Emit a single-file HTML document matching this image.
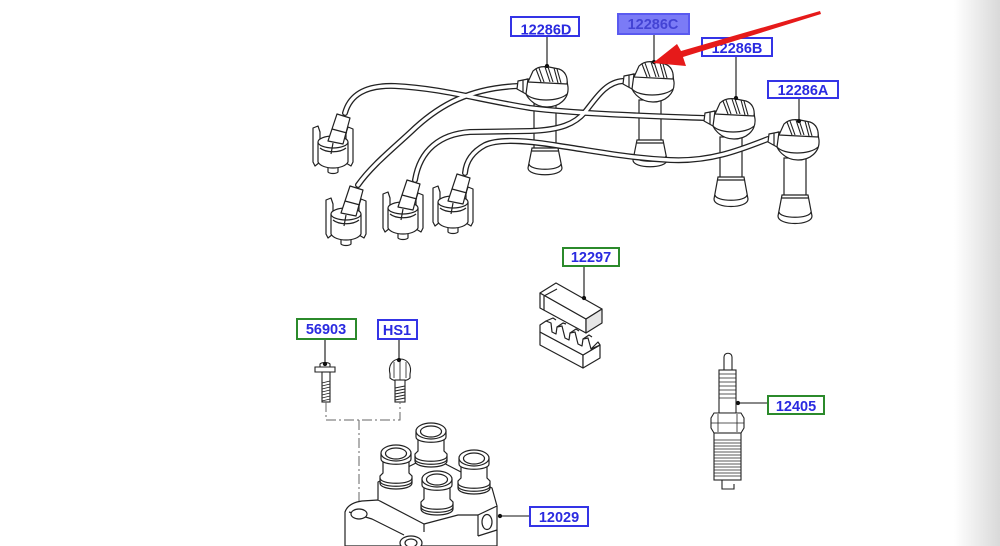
<!DOCTYPE html>
<html><head><meta charset="utf-8"><style>
html,body{margin:0;padding:0;background:#fff;}
#wrap{position:relative;width:1000px;height:546px;overflow:hidden;background:#fff;}
#edge{position:absolute;right:0;top:0;width:46px;height:546px;background:linear-gradient(to right,rgba(220,220,220,0),#d9d9d9);}
svg{position:absolute;left:0;top:0;}
text{font-family:"Liberation Sans",Arial,sans-serif;font-weight:bold;font-size:14.5px;text-anchor:middle;}
</style></head><body><div id="wrap"><div id="edge"></div>
<svg width="1000" height="546" viewBox="0 0 1000 546" xmlns="http://www.w3.org/2000/svg">
<defs>
<g id="hd" stroke="#222" stroke-width="1.2" fill="#fff" stroke-linejoin="round">
 <path d="M-20,18 C-22,30 -10,40 2,40 C14,40 24,32 23,20 L22,14 L-18,12 Z"/>
 <path d="M-19,27 C-12,35 14,35 22,27" fill="none"/>
 <path d="M-17,15 L-12,4 C-8,0 -2,-1 4,0 L14,2 C20,4 23,10 22,17 Z"/>
 <path d="M-9,2 L-4,15 M-6,1 L-1,15 M0,0 L5,15 M3,0 L8,15 M9,1 L13,16 M12,2 L16,16" fill="none" stroke-width="1.1"/>
 <path d="M-17,12 L-27,14 L-28,22 L-19,27 Z"/>
 <path d="M-22,13 L-22,25" fill="none"/>
</g>
<g id="cn" fill="#fff" stroke="#222" stroke-width="1.2" stroke-linejoin="round">
 <path d="M1,16 L6,14 L8,20 L8,50 L3,54 L1,50 Z"/>
 <path d="M41,17 L36,15 L34,21 L34,51 L39,54 L41,50 Z"/>
 <path d="M16,55 L16,60 C18,62 24,62 26,60 L26,55"/>
 <path d="M6,30 L6,50 C10,58 32,58 36,50 L36,30 Z"/>
 <ellipse cx="21" cy="30" rx="15" ry="6"/>
 <path d="M8,36 C14,41 28,41 34,36" fill="none"/>
 <path d="M16,29 L25,2 L38,6 L31,32 Z"/>
 <path d="M20,17 L35,21" fill="none"/>
 <path d="M21,31 L19,42" fill="none"/>
</g>
<g id="tw" stroke="#222" stroke-width="1.2" fill="#fff">
 <path d="M-16,30 C-16,38 16,38 16,30 L16,23 L13,20 L13,3 L-13,3 L-13,20 L-16,23 Z"/>
 <path d="M-16,25 C-16,32 16,32 16,25" fill="none"/>
 <path d="M-16,28 C-16,35 16,35 16,28" fill="none"/>
 <path d="M-15,0 L-15,6 C-15,13 15,13 15,6 L15,0" />
 <ellipse cx="0" cy="0" rx="15" ry="8"/>
 <ellipse cx="0" cy="0.5" rx="10.5" ry="5.5"/>
</g>
</defs>

<!-- boot tubes and caps -->
<g stroke="#222" stroke-width="1.2" fill="#fff">
 <rect x="534" y="104" width="22" height="46"/>
 <path d="M532,148 L528,168 C528,177 562,177 562,168 L558,148 Z"/>
 <path d="M529,164 C530,171 560,171 561,164 M532,151 L558,151" fill="none"/>
 <rect x="639" y="100" width="22" height="42"/>
 <path d="M637,140 L633,160 C633,169 667,169 667,160 L663,140 Z"/>
 <path d="M634,156 C635,163 665,163 666,156 M637,143 L663,143" fill="none"/>
 <rect x="720" y="137" width="22" height="42"/>
 <path d="M718,177 L714,199 C714,209 748,209 748,199 L744,177 Z"/>
 <path d="M715,195 C716,202 746,202 747,195 M718,180 L744,180" fill="none"/>
 <rect x="784" y="158" width="22" height="39"/>
 <path d="M782,195 L778,216 C778,226 812,226 812,216 L808,195 Z"/>
 <path d="M779,212 C780,219 810,219 811,212 M782,198 L808,198" fill="none"/>
</g>

<!-- wires -->
<g fill="none" stroke-linecap="round">
 <g stroke="#222" stroke-width="6">
  <path d="M345,113 C350,95 365,85 395,86 C440,88 480,100 530,108 C580,114 650,116 704,118"/>
  <path d="M518,86 C470,88 440,105 415,128 C395,147 372,165 358,185"/>
  <path d="M623,81 C605,82 595,100 585,112 C575,124 560,130 530,131 L470,132 C440,134 420,150 415,180"/>
  <path d="M768,139 C740,150 710,162 670,160 C630,158 600,152 560,146 C530,141 500,138 485,145 C472,152 466,162 465,173"/>
 </g>
 <g stroke="#fff" stroke-width="3.4">
  <path d="M345,113 C350,95 365,85 395,86 C440,88 480,100 530,108 C580,114 650,116 704,118"/>
  <path d="M518,86 C470,88 440,105 415,128 C395,147 372,165 358,185"/>
  <path d="M623,81 C605,82 595,100 585,112 C575,124 560,130 530,131 L470,132 C440,134 420,150 415,180"/>
  <path d="M768,139 C740,150 710,162 670,160 C630,158 600,152 560,146 C530,141 500,138 485,145 C472,152 466,162 465,173"/>
 </g>
</g>

<!-- boot heads -->
<use href="#hd" x="545" y="67"/>
<use href="#hd" x="651" y="62"/>
<use href="#hd" x="732" y="99"/>
<use href="#hd" x="796" y="120"/>

<!-- connectors -->
<use href="#cn" x="312" y="112"/>
<use href="#cn" x="325" y="184"/>
<use href="#cn" x="382" y="178"/>
<use href="#cn" x="432" y="172"/>

<!-- clip 12297 -->
<g stroke="#222" stroke-width="1.2" fill="#fff" stroke-linejoin="round">
 <path d="M540,293 L586,319 L586,333 L540,308 Z"/>
 <path d="M540,293 L556,283 L602,309 L586,319 Z"/>
 <path d="M586,319 L602,309 L602,323 L586,333 Z" fill="#e6e6e6"/>
 <path d="M544,296 L544,310 M544,296 L557,289" fill="none"/>
 <path d="M540,332 L583,355 L583,368 L540,345 Z"/>
 <path d="M583,355 L600,345 L600,358 L583,368 Z"/>
 <path d="M540,332 L540,325 L546,321 L551,323 L552,332 L556,334 L557,327 L562,326 L565,338 L569,340 L570,333 L575,332 L578,344 L582,346 L583,339 L588,338 L591,349 L600,345 L583,355 Z"/>
 <path d="M546,321 L553,318 L556,320 M557,327 L563,323 L566,324 M570,333 L576,329 L579,331 M583,339 L589,335 L592,337 M591,349 L598,342 L600,345" fill="none"/>
</g>

<!-- bolts -->
<g stroke="#222" stroke-width="1.1" fill="#fff">
 <path d="M320,367 L320,364 C322,362 328,362 330,364 L330,367"/>
 <path d="M315,367 L335,367 L335,372 L315,372 Z"/>
 <rect x="322" y="372" width="8" height="30"/>
 <path d="M322,383 L330,381 M322,386 L330,384 M322,389 L330,387 M322,392 L330,390 M322,395 L330,393 M322,398 L330,396 M322,401 L330,399" fill="none" stroke-width="0.9"/>
 <path d="M390,374 C388,366 392,359 400,359 C408,359 412,366 410,374 L410,378 C406,382 394,382 390,378 Z"/>
 <path d="M394,362 L394,378 M400,360 L400,380 M406,362 L406,378" fill="none" stroke-width="0.8"/>
 <rect x="395" y="380" width="10" height="22"/>
 <path d="M395,388 L405,386 M395,391 L405,389 M395,394 L405,392 M395,397 L405,395 M395,400 L405,398" fill="none" stroke-width="0.9"/>
</g>
<!-- dash-dot -->
<g stroke="#666" stroke-width="1" fill="none" stroke-dasharray="10,3,2,3">
 <path d="M326,402 L326,420 L400,420 L400,402"/>
 <path d="M359,420 L359,505"/>
</g>

<!-- coil pack body -->
<g stroke="#222" stroke-width="1.2" fill="#fff" stroke-linejoin="round">
 <path d="M345,546 L345,512 Q348,503 362,501 L378,500 L424,524 L458,515 L478,515 L497,506 L497,546 Z"/>
 <path d="M378,500 L378,482 L430,456 L492,488 L497,506" fill="#fff"/>
 <path d="M349,512 L372,519 L404,535 M424,524 L424,532 M478,515 L478,536 M497,530 L478,536" fill="none"/>
 <ellipse cx="359" cy="514" rx="8" ry="5"/>
 <ellipse cx="487" cy="522" rx="5" ry="7.5"/>
 <ellipse cx="411" cy="543" rx="11" ry="7"/>
 <ellipse cx="411" cy="543" rx="6" ry="4"/>
</g>
<use href="#tw" x="431" y="431"/>
<use href="#tw" x="396" y="453"/>
<use href="#tw" x="474" y="458"/>
<use href="#tw" x="437" y="479"/>

<!-- spark plug -->
<g stroke="#222" stroke-width="1.1" fill="#fff">
 <path d="M724,371 L724,357 C724,352 732,352 732,357 L732,371 Z"/>
 <rect x="719" y="370" width="17" height="43"/>
 <path d="M719,374 L736,374 M719,378 L736,378 M719,382 L736,382 M719,386 L736,386 M719,390 L736,390 M719,394 L736,394 M719,398 L736,398" fill="none" stroke-width="0.8"/>
 <path d="M711,418 L714,413 L741,413 L744,418 L744,428 L741,433 L714,433 L711,428 Z"/>
 <path d="M718,414 L718,432 M737,414 L737,432 M711,423 L744,423" fill="none" stroke-width="0.8"/>
 <rect x="714" y="433" width="27" height="47"/>
 <path d="M714,440 L741,440 M714,443 L741,443 M714,446 L741,446 M714,449 L741,449 M714,452 L741,452 M714,455 L741,455 M714,458 L741,458 M714,461 L741,461 M714,464 L741,464 M714,467 L741,467 M714,470 L741,470 M714,473 L741,473 M714,476 L741,476" fill="none" stroke-width="0.8"/>
 <path d="M722,480 L722,489 L734,489 L734,484" fill="none"/>
</g>

<!-- leaders -->
<g stroke="#111" stroke-width="1.1" fill="#111">
 <line x1="547" y1="36" x2="547" y2="66"/><circle cx="547" cy="66" r="1.6"/>
 <line x1="654" y1="34" x2="654" y2="62"/><circle cx="654" cy="62" r="1.6"/>
 <line x1="736" y1="56" x2="736" y2="98"/><circle cx="736" cy="98" r="1.6"/>
 <line x1="799" y1="98" x2="799" y2="121"/><circle cx="799" cy="121" r="1.6"/>
 <line x1="584" y1="266" x2="584" y2="298"/><circle cx="584" cy="298" r="1.6"/>
 <line x1="325" y1="339" x2="325" y2="364"/><circle cx="325" cy="364" r="1.6"/>
 <line x1="399" y1="339" x2="399" y2="360"/><circle cx="399" cy="360" r="1.6"/>
 <line x1="738" y1="403" x2="768" y2="403"/><circle cx="738" cy="403" r="1.6"/>
 <line x1="500" y1="516" x2="530" y2="516"/><circle cx="500" cy="516" r="1.6"/>
</g>

<!-- labels -->
<g fill="#fff" stroke-width="2">
 <rect x="511" y="17" width="68" height="19" stroke="#3434e6"/>
 <rect x="618" y="14" width="71" height="20" stroke="#5a5af0" fill="#7b7bf6"/>
 <rect x="702" y="38" width="70" height="18" stroke="#3434e6"/>
 <rect x="768" y="81" width="70" height="17" stroke="#3434e6"/>
 <rect x="563" y="248" width="56" height="18" stroke="#2b8a2b"/>
 <rect x="297" y="319" width="59" height="20" stroke="#2b8a2b"/>
 <rect x="378" y="320" width="39" height="19" stroke="#3434e6"/>
 <rect x="768" y="396" width="56" height="18" stroke="#2b8a2b"/>
 <rect x="530" y="507" width="58" height="19" stroke="#3434e6"/>
</g>
<g fill="#2a2ae0">
 <text x="546" y="34.5">12286D</text>
 <text x="653" y="29" fill="#4343d4">12286C</text>
 <text x="737" y="53">12286B</text>
 <text x="803" y="95">12286A</text>
 <text x="591" y="262">12297</text>
 <text x="326" y="334">56903</text>
 <text x="397" y="335">HS1</text>
 <text x="796" y="411">12405</text>
 <text x="559" y="522">12029</text>
</g>

<!-- red arrow -->
<polygon points="653,63 677,44 681,51 820,11 821,14 683,57 686,66" fill="#e61a1a"/>
</svg></div></body></html>
